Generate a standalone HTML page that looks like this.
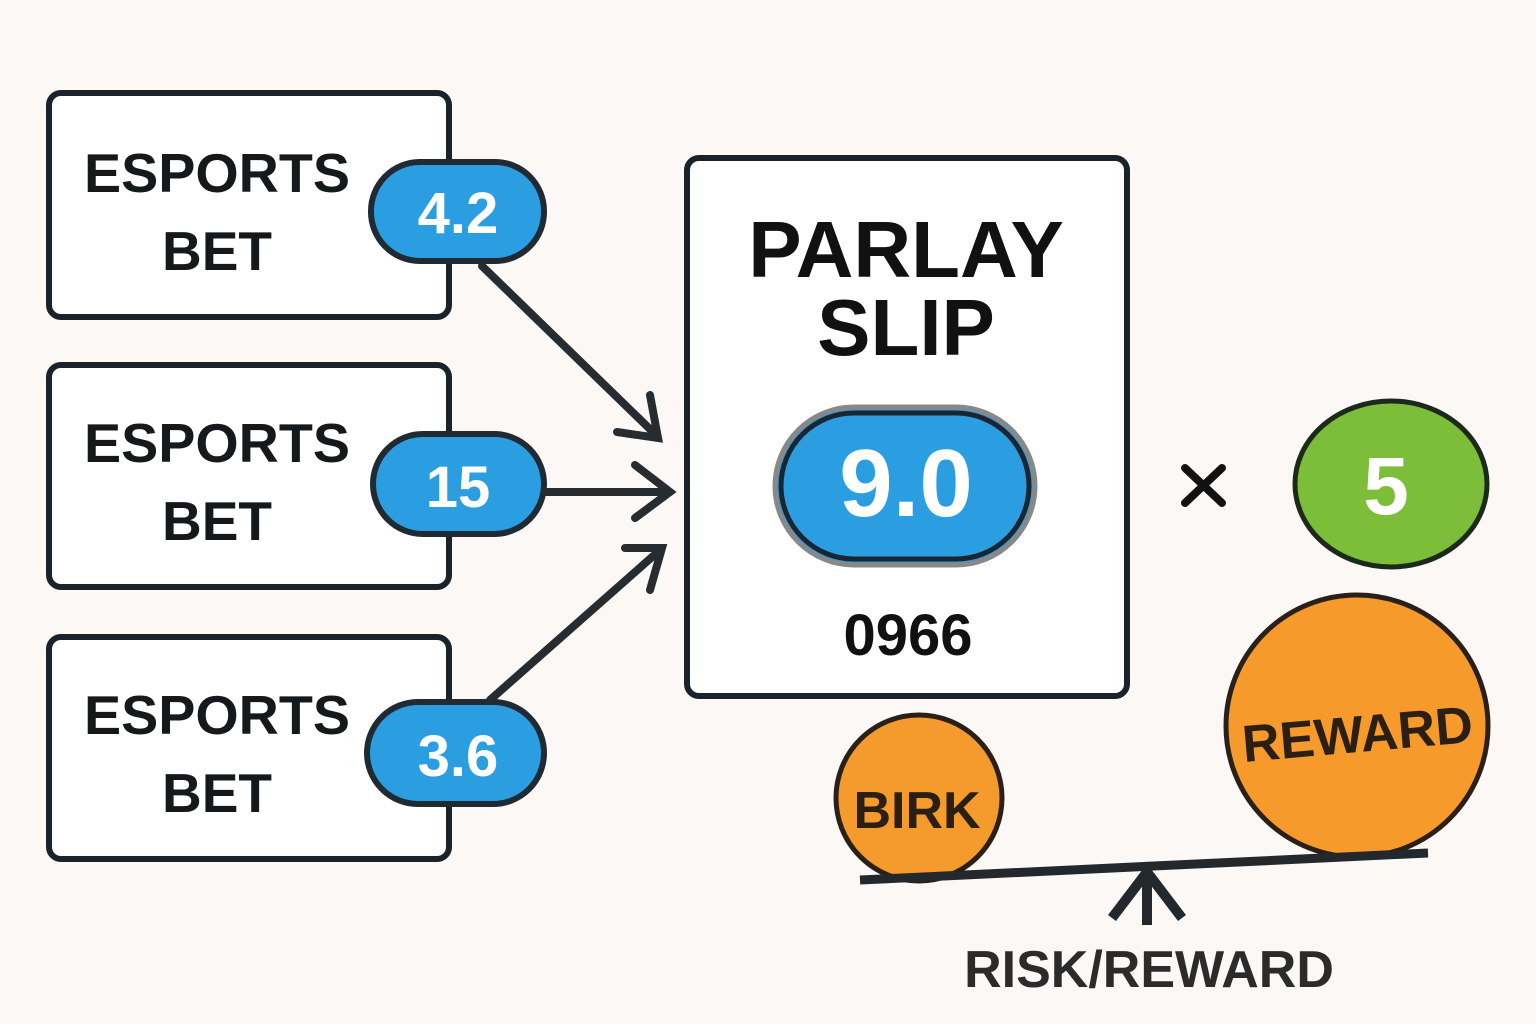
<!DOCTYPE html>
<html><head><meta charset="utf-8"><style>
html,body{margin:0;padding:0;background:#fbf8f6;}
svg{display:block}
text{font-family:"Liberation Sans","DejaVu Sans",sans-serif;font-weight:bold;}
</style></head><body>
<svg width="1536" height="1024" viewBox="0 0 1536 1024" xmlns="http://www.w3.org/2000/svg">
<rect width="1536" height="1024" fill="#fbf8f6"/>
<g fill="#fff" stroke="#1a2329" stroke-width="6">
<rect x="49" y="93" width="400" height="224" rx="12"/>
<rect x="49" y="365" width="400" height="222" rx="12"/>
<rect x="49" y="637" width="400" height="222" rx="12"/>
<rect x="687" y="158" width="440" height="538" rx="12"/>
</g>
<g fill="#15191c" font-size="55" text-anchor="middle">
<text x="217" y="192" textLength="266" lengthAdjust="spacingAndGlyphs">ESPORTS</text><text x="217" y="270">BET</text>
<text x="217" y="462" textLength="266" lengthAdjust="spacingAndGlyphs">ESPORTS</text><text x="217" y="540">BET</text>
<text x="217" y="734" textLength="266" lengthAdjust="spacingAndGlyphs">ESPORTS</text><text x="217" y="812">BET</text>
</g>
<g fill="#2b9ee1" stroke="#1f2a33" stroke-width="6">
<rect x="371" y="162" width="173" height="99" rx="49"/>
<rect x="373" y="434" width="171" height="100" rx="50"/>
<rect x="367" y="702" width="177" height="102" rx="51"/>
<rect x="775" y="407" width="260" height="158" rx="79" stroke="#888" stroke-width="5"/>
<rect x="781" y="413" width="248" height="146" rx="73" fill="none" stroke="#1b2530" stroke-width="5"/>
</g>
<g fill="#fff" font-size="58" text-anchor="middle">
<text x="458" y="233">4.2</text>
<text x="458" y="507">15</text>
<text x="458" y="776">3.6</text>
<text x="906" y="516" font-size="96">9.0</text>
</g>
<g stroke="#262c30" stroke-width="8" fill="none" stroke-linecap="round">
<line x1="482" y1="266" x2="655" y2="434"/>
<polyline points="617,432 658,438 650,395"/>
<line x1="545" y1="492" x2="668" y2="492"/>
<polyline points="635,465 670,492 635,518"/>
<line x1="490" y1="700" x2="660" y2="550"/>
<polyline points="625,548 662,548 650,590"/>
</g>
<text x="906" y="277" font-size="80" text-anchor="middle" fill="#111">PARLAY</text>
<text x="906" y="355" font-size="80" text-anchor="middle" fill="#111">SLIP</text>
<text x="908" y="655" font-size="58" text-anchor="middle" fill="#111" font-family="Liberation Mono">0966</text>
<g stroke="#111" stroke-width="8" stroke-linecap="round">
<line x1="1185" y1="468" x2="1222" y2="503"/><line x1="1222" y1="468" x2="1185" y2="503"/>
</g>
<ellipse cx="1391" cy="484" rx="96" ry="83" fill="#7cbd3a" stroke="#1c2a1a" stroke-width="5"/>
<text x="1386" y="514" font-size="82" text-anchor="middle" fill="#fff">5</text>
<circle cx="1357" cy="726" r="131" fill="#f69a2b" stroke="#2a2018" stroke-width="5"/>
<text x="1358" y="752" font-size="52" text-anchor="middle" fill="#2a1f12" transform="rotate(-5 1358 740)">REWARD</text>
<circle cx="919" cy="798" r="83" fill="#f59a2c" stroke="#2a2018" stroke-width="5"/>
<text x="917" y="828" font-size="52" text-anchor="middle" fill="#2a1f12">BIRK</text>
<line x1="860" y1="880" x2="1428" y2="853" stroke="#22282c" stroke-width="9"/>
<line x1="1147" y1="925" x2="1147" y2="872" stroke="#22282c" stroke-width="10"/>
<polyline points="1112,918 1147,872 1182,918" stroke="#22282c" stroke-width="10" fill="none"/>
<text x="1149" y="987" font-size="52" text-anchor="middle" fill="#2b2b2b">RISK/REWARD</text>
</svg>
</body></html>
